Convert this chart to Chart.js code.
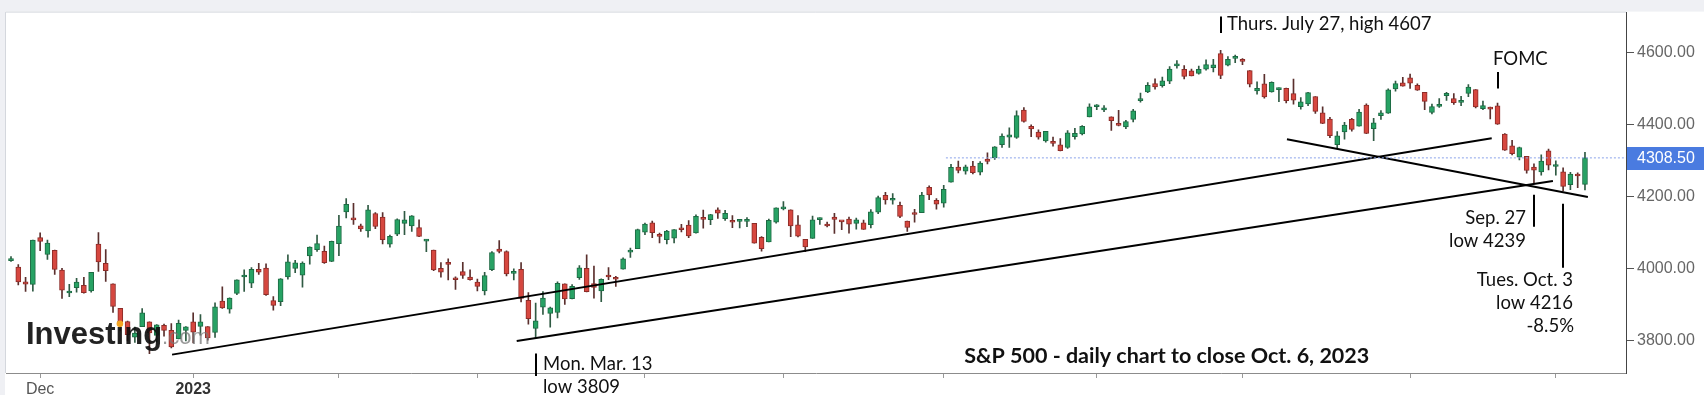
<!DOCTYPE html>
<html><head><meta charset="utf-8">
<script src="https://cdn.jsdelivr.net/npm/chart.js@4.4.0/dist/chart.umd.min.js"></script>
<style>
html,body{margin:0;padding:0;background:#fff;}
canvas{display:block;}
</style></head><body>
<canvas id="c" width="1704" height="395"></canvas>
<script>
// ---- DATA (S&P 500 daily, Nov 25 2022 - Oct 6 2023) ----
const dates = ["2022-11-25","2022-11-28","2022-11-29","2022-11-30","2022-12-01","2022-12-02","2022-12-05","2022-12-06","2022-12-07","2022-12-08","2022-12-09","2022-12-12","2022-12-13","2022-12-14","2022-12-15","2022-12-16","2022-12-19","2022-12-20","2022-12-21","2022-12-22","2022-12-23","2022-12-27","2022-12-28","2022-12-29","2022-12-30",
"2023-01-03","2023-01-04","2023-01-05","2023-01-06","2023-01-09","2023-01-10","2023-01-11","2023-01-12","2023-01-13","2023-01-17","2023-01-18","2023-01-19","2023-01-20","2023-01-23","2023-01-24","2023-01-25","2023-01-26","2023-01-27","2023-01-30","2023-01-31",
"2023-02-01","2023-02-02","2023-02-03","2023-02-06","2023-02-07","2023-02-08","2023-02-09","2023-02-10","2023-02-13","2023-02-14","2023-02-15","2023-02-16","2023-02-17","2023-02-21","2023-02-22","2023-02-23","2023-02-24","2023-02-27","2023-02-28",
"2023-03-01","2023-03-02","2023-03-03","2023-03-06","2023-03-07","2023-03-08","2023-03-09","2023-03-10","2023-03-13","2023-03-14","2023-03-15","2023-03-16","2023-03-17","2023-03-20","2023-03-21","2023-03-22","2023-03-23","2023-03-24","2023-03-27","2023-03-28","2023-03-29","2023-03-30","2023-03-31",
"2023-04-03","2023-04-04","2023-04-05","2023-04-06","2023-04-10","2023-04-11","2023-04-12","2023-04-13","2023-04-14","2023-04-17","2023-04-18","2023-04-19","2023-04-20","2023-04-21","2023-04-24","2023-04-25","2023-04-26","2023-04-27","2023-04-28",
"2023-05-01","2023-05-02","2023-05-03","2023-05-04","2023-05-05","2023-05-08","2023-05-09","2023-05-10","2023-05-11","2023-05-12","2023-05-15","2023-05-16","2023-05-17","2023-05-18","2023-05-19","2023-05-22","2023-05-23","2023-05-24","2023-05-25","2023-05-26","2023-05-30","2023-05-31",
"2023-06-01","2023-06-02","2023-06-05","2023-06-06","2023-06-07","2023-06-08","2023-06-09","2023-06-12","2023-06-13","2023-06-14","2023-06-15","2023-06-16","2023-06-20","2023-06-21","2023-06-22","2023-06-23","2023-06-26","2023-06-27","2023-06-28","2023-06-29","2023-06-30",
"2023-07-03","2023-07-05","2023-07-06","2023-07-07","2023-07-10","2023-07-11","2023-07-12","2023-07-13","2023-07-14","2023-07-17","2023-07-18","2023-07-19","2023-07-20","2023-07-21","2023-07-24","2023-07-25","2023-07-26","2023-07-27","2023-07-28","2023-07-31",
"2023-08-01","2023-08-02","2023-08-03","2023-08-04","2023-08-07","2023-08-08","2023-08-09","2023-08-10","2023-08-11","2023-08-14","2023-08-15","2023-08-16","2023-08-17","2023-08-18","2023-08-21","2023-08-22","2023-08-23","2023-08-24","2023-08-25","2023-08-28","2023-08-29","2023-08-30","2023-08-31",
"2023-09-01","2023-09-05","2023-09-06","2023-09-07","2023-09-08","2023-09-11","2023-09-12","2023-09-13","2023-09-14","2023-09-15","2023-09-18","2023-09-19","2023-09-20","2023-09-21","2023-09-22","2023-09-25","2023-09-26","2023-09-27","2023-09-28","2023-09-29",
"2023-10-02","2023-10-03","2023-10-04","2023-10-05","2023-10-06"];

const opens = [4023.34,4005.36,3964.00,3957.18,4087.14,4040.17,4052.02,3996.63,3933.28,3947.79,3954.17,3939.29,4069.38,4015.54,3958.37,3890.91,3853.79,3810.47,3839.49,3853.26,3815.11,3843.34,3829.56,3805.45,3829.06,
3853.29,3840.36,3839.74,3823.37,3910.82,3888.57,3932.35,3977.57,3960.60,3999.28,4002.25,3911.84,3909.04,3978.14,4001.74,3982.71,4036.08,4053.72,4049.27,4020.85,
4070.07,4158.68,4136.69,4119.57,4105.35,4153.97,4144.25,4068.92,4096.62,4126.70,4119.50,4114.75,4077.39,4052.35,4001.83,4018.60,3973.24,3992.36,3977.19,
3963.34,3938.68,3998.02,4055.15,4048.26,3987.55,3998.66,3912.77,3835.12,3894.01,3876.74,3878.93,3958.69,3917.47,3975.89,4002.04,3959.21,3939.21,3982.93,3974.13,3999.53,4046.74,4056.18,
4102.20,4128.03,4094.50,4081.15,4085.20,4110.29,4121.72,4100.04,4140.11,4137.17,4164.26,4139.33,4130.48,4132.14,4132.07,4126.43,4087.78,4075.29,4129.63,
4166.79,4164.10,4122.25,4082.61,4084.73,4136.98,4124.25,4143.74,4132.24,4138.54,4126.65,4127.95,4122.85,4157.68,4204.15,4190.78,4176.80,4132.96,4155.71,4156.16,4226.71,4190.74,
4183.03,4241.01,4282.99,4271.34,4285.47,4268.69,4304.88,4308.32,4345.28,4366.29,4365.33,4440.95,4396.11,4380.01,4355.40,4354.17,4344.84,4337.36,4367.48,4374.94,4422.44,
4450.48,4442.04,4422.62,4404.54,4394.23,4415.55,4467.69,4491.50,4514.61,4508.86,4521.78,4563.87,4554.38,4550.16,4543.39,4555.19,4558.96,4598.26,4565.75,4584.82,
4578.83,4550.93,4494.27,4513.96,4491.58,4498.03,4501.57,4487.16,4450.69,4458.13,4478.87,4433.79,4416.32,4344.88,4380.28,4415.33,4396.44,4455.16,4389.38,4426.03,4432.75,4500.34,4517.01,
4530.60,4510.06,4490.35,4434.55,4451.30,4480.98,4473.27,4462.65,4487.78,4497.98,4445.13,4445.41,4452.81,4374.36,4341.74,4310.62,4312.88,4282.63,4269.65,4328.18,
4284.52,4269.75,4233.83,4259.31,4234.79];

const highs = [4034.02,4012.27,3976.77,4080.11,4100.51,4080.48,4052.45,4001.51,3957.57,3974.19,3977.02,3990.71,4100.96,4053.76,3958.37,3890.91,3854.86,3838.24,3889.82,3853.26,3845.80,3846.65,3848.32,3858.19,3839.85,
3878.46,3873.16,3839.74,3906.19,3950.57,3919.83,3970.07,3997.76,4003.95,4015.39,4014.16,3922.94,3972.96,4039.31,4023.92,4019.55,4061.57,4094.21,4063.85,4077.16,
4148.95,4195.44,4182.36,4124.63,4176.54,4156.85,4156.23,4094.36,4138.90,4159.77,4148.11,4136.54,4081.51,4052.35,4017.37,4028.30,3978.25,4018.05,3997.50,
3971.73,3990.84,4048.29,4078.49,4050.00,4000.41,4017.81,3934.05,3905.05,3937.29,3894.26,3964.46,3958.91,3956.62,4009.08,4039.49,4007.66,3972.74,4003.83,3979.20,4030.59,4057.85,4110.75,
4127.66,4133.13,4099.69,4107.32,4109.50,4124.26,4134.37,4150.26,4163.19,4151.72,4169.48,4162.57,4148.57,4138.02,4142.41,4126.43,4089.67,4138.24,4170.06,
4186.92,4164.10,4148.30,4082.61,4147.02,4142.30,4130.35,4154.28,4132.80,4143.74,4141.25,4135.54,4164.67,4202.20,4212.91,4209.22,4185.68,4132.96,4165.74,4212.87,4231.10,4195.44,
4232.43,4290.67,4299.28,4288.33,4299.19,4298.01,4322.62,4340.13,4375.37,4391.82,4439.20,4448.47,4400.15,4386.22,4382.25,4366.55,4362.06,4384.42,4390.35,4398.39,4458.48,
4456.46,4454.06,4422.62,4440.39,4412.60,4443.64,4488.34,4517.38,4527.76,4532.85,4562.30,4578.43,4564.74,4555.00,4563.41,4580.62,4582.47,4607.07,4590.16,4594.22,
4584.62,4550.93,4519.49,4540.34,4519.84,4503.31,4502.44,4527.37,4476.23,4490.33,4478.87,4449.95,4421.17,4381.82,4407.55,4418.59,4443.18,4458.30,4418.46,4439.56,4500.14,4521.65,4532.26,
4541.25,4514.29,4490.35,4457.81,4473.53,4490.77,4487.11,4479.39,4511.99,4497.98,4466.36,4449.85,4461.03,4375.70,4357.40,4338.51,4313.01,4292.07,4317.27,4333.15,
4300.58,4281.15,4268.50,4267.13,4324.10];

const lows = [4020.76,3955.77,3937.65,3938.58,4050.87,4026.63,3984.49,3918.39,3922.68,3935.83,3933.04,3935.30,3993.03,3965.65,3879.45,3827.91,3800.04,3795.62,3839.49,3764.49,3797.01,3813.22,3780.78,3805.45,3800.34,
3794.33,3815.77,3802.42,3809.56,3890.42,3877.29,3928.54,3937.56,3947.67,3984.57,3926.59,3885.54,3897.86,3971.64,3989.79,3949.06,4013.29,4048.70,4015.55,4020.44,
4037.20,4141.88,4123.36,4103.98,4088.39,4111.67,4069.67,4060.79,4092.67,4095.01,4103.98,4089.49,4047.95,3995.19,3976.90,3969.19,3943.08,3973.55,3968.98,
3939.05,3928.16,3995.17,4044.61,3980.31,3969.76,3908.70,3846.32,3808.86,3873.63,3838.24,3864.11,3901.27,3916.89,3971.19,3936.17,3919.05,3909.16,3970.49,3951.53,3999.53,4032.10,4056.18,
4095.31,4086.87,4072.56,4069.84,4072.55,4102.61,4086.94,4099.40,4113.20,4123.18,4140.36,4134.49,4114.57,4113.86,4117.77,4071.38,4049.35,4075.29,4127.18,
4164.12,4089.72,4088.86,4048.28,4084.73,4123.81,4116.65,4098.92,4109.29,4099.12,4110.27,4109.86,4113.62,4153.50,4180.20,4179.68,4142.54,4103.98,4129.73,4156.16,4192.18,4166.15,
4171.64,4241.01,4266.82,4263.09,4263.96,4261.07,4291.70,4304.37,4337.55,4337.85,4362.60,4407.44,4367.19,4360.14,4351.82,4341.34,4328.08,4335.00,4360.22,4371.97,4422.44,
4442.29,4436.61,4385.05,4397.40,4389.92,4408.46,4463.23,4489.36,4499.56,4504.90,4514.59,4557.48,4527.56,4535.79,4541.29,4552.42,4547.58,4528.56,4564.01,4573.14,
4567.53,4505.75,4485.54,4474.55,4491.15,4464.39,4461.33,4457.92,4443.98,4453.44,4432.19,4403.55,4364.83,4335.31,4360.30,4382.77,4396.44,4375.55,4356.29,4414.98,4431.68,4493.59,4507.39,
4501.35,4496.01,4442.38,4430.46,4448.38,4467.89,4456.83,4453.52,4478.69,4447.21,4442.11,4416.61,4401.38,4329.17,4316.49,4302.70,4265.98,4238.63,4260.21,4274.86,
4260.21,4216.45,4220.48,4225.91,4219.55];

const closes = [4026.12,3963.94,3957.63,4080.11,4076.57,4071.70,3998.84,3941.26,3933.92,3963.51,3934.38,3990.56,4019.65,3995.32,3895.75,3852.36,3817.66,3821.62,3878.44,3822.39,3844.82,3829.25,3783.22,3849.28,3839.50,
3824.14,3852.97,3808.10,3895.08,3892.09,3919.25,3969.61,3983.17,3999.09,3990.97,3928.86,3898.85,3972.61,4019.81,4016.95,4016.22,4060.43,4070.56,4017.77,4076.60,
4119.21,4179.76,4136.48,4111.08,4164.00,4117.86,4081.50,4090.46,4137.29,4136.13,4147.60,4090.41,4079.09,3997.34,3991.05,4012.32,3970.04,3982.24,3970.15,
3951.39,3981.35,4045.64,4048.42,3986.37,3992.01,3918.32,3861.59,3855.76,3919.29,3891.93,3960.28,3916.64,3951.57,4002.87,3936.97,3948.72,3970.99,3977.53,3971.27,4027.81,4050.83,4109.31,
4124.51,4100.60,4090.38,4105.02,4109.11,4108.94,4091.95,4146.22,4137.64,4151.32,4154.87,4154.52,4129.79,4133.52,4137.04,4071.63,4055.99,4135.35,4169.48,
4167.87,4119.58,4090.75,4061.22,4136.25,4138.12,4119.17,4137.64,4130.62,4124.08,4136.28,4109.90,4158.77,4198.05,4191.98,4192.63,4145.58,4115.24,4151.28,4205.45,4205.52,4179.83,
4221.02,4282.37,4273.79,4283.85,4267.52,4293.93,4298.86,4338.93,4369.01,4372.59,4425.84,4409.59,4388.71,4365.69,4381.89,4348.33,4328.82,4378.41,4376.86,4396.44,4450.38,
4455.59,4446.82,4411.59,4398.95,4409.53,4439.26,4472.16,4510.04,4505.42,4522.79,4554.98,4565.72,4534.87,4536.34,4554.64,4567.46,4566.75,4537.41,4582.23,4588.96,
4576.73,4513.39,4501.89,4478.03,4518.44,4499.38,4467.71,4468.83,4464.05,4489.72,4437.86,4404.33,4370.36,4369.71,4399.77,4387.55,4436.01,4376.31,4405.71,4433.31,4497.63,4514.87,4507.66,
4515.77,4496.83,4465.48,4451.14,4457.49,4487.46,4461.90,4467.44,4505.10,4450.32,4453.53,4443.95,4402.20,4330.00,4320.06,4337.44,4273.53,4274.51,4299.70,4288.05,
4288.39,4229.45,4263.75,4258.19,4308.50];

// Y axis tick values and X-axis month marks (candle index of first trading day)
const yTickValues = [3800, 4000, 4200, 4400, 4600];
const monthStartIndex = [4, 25, 45, 64, 87, 106, 128, 149, 169, 192, 212];
const monthLabels = ["Dec", "2023", "", "", "", "", "", "", "", "", ""];
const lastPrice = 4308.50;
const lastPriceLineStart = 128.3;

// Trend lines drawn on the chart (candle index, price)
const trendLineA = [{x: 22.1, y: 3762}, {x: 203.2, y: 4363}];
const trendLineB = [{x: 69.4, y: 3800}, {x: 211.6, y: 4244}];
const trendLineC = [{x: 175.1, y: 4360}, {x: 216.4, y: 4200}];

// Annotations anchored in data space
const annotations = [
  {idx: 166, top: 4701, bottom: 4655, texts: [{t: "Thurs. July 27, high 4607", dx: 6, y: 4663, align: "left"}]},
  {idx: 72, top: 3765, bottom: 3703, texts: [{t: "Mon. Mar. 13", dx: 7, y: 3719, align: "left"}, {t: "low 3809", dx: 7, y: 3656, align: "left"}]},
  {idx: 204, top: 4547, bottom: 4501, texts: [{t: "FOMC", dx: -5, y: 4566, align: "left"}]},
  {idx: 209, top: 4206, bottom: 4117, texts: [{t: "Sep. 27", dx: -8, y: 4125, align: "right"}, {t: "low 4239", dx: -8, y: 4060, align: "right"}]},
  {idx: 213, top: 4181, bottom: 4003, texts: [{t: "Tues. Oct. 3", dx: 10, y: 3954, align: "right"}, {t: "low 4216", dx: 10, y: 3889, align: "right"}, {t: "-8.5%", dx: 11, y: 3824, align: "right"}]}
];
const titleText = "S&P 500 - daily chart to close Oct. 6, 2023";
const titleAnchor = {idx: 130.8, y: 3740};
const logoAnchor = {idx: 2.06, y: 3792};

// ---- CHART ----
const idx = dates.map((d, i) => i);
const up = idx.map(i => closes[i] >= opens[i]);
const GREEN = '#27a264', GREEN_B = '#1d6a43', RED = '#d6473f', RED_B = '#8c2c28';

const bgPlugin = {
  id: 'bg',
  beforeDraw(chart) {
    const {ctx, chartArea: a, width, height} = chart;
    ctx.save();
    ctx.fillStyle = '#ffffff';
    ctx.fillRect(0, 0, width, height);
    ctx.fillStyle = '#eff0f4';
    ctx.fillRect(0, 0, width, a.top - 1);
    ctx.fillRect(0, 0, a.left - 1, height);
    ctx.strokeStyle = '#d4d7dd';
    ctx.lineWidth = 1;
    ctx.beginPath();
    ctx.moveTo(a.left - 0.5, a.top - 0.5); ctx.lineTo(a.left - 0.5, a.bottom);
    ctx.moveTo(a.left - 0.5, a.top - 0.5); ctx.lineTo(a.right, a.top - 0.5);
    ctx.stroke();
    ctx.restore();
  }
};

const annoPlugin = {
  id: 'anno',
  afterDraw(chart) {
    const {ctx, chartArea: a, scales: {x, y}, width} = chart;
    ctx.save();
    // logo
    const lx = x.getPixelForValue(logoAnchor.idx), ly = y.getPixelForValue(logoAnchor.y);
    ctx.textBaseline = 'alphabetic';
    ctx.textAlign = 'left';
    ctx.font = 'bold 31px "Liberation Sans", Arial, sans-serif';
    ctx.fillStyle = 'rgba(15,15,15,0.92)';
    ctx.fillText('Investing', lx, ly);
    const wInv = ctx.measureText('Investing').width;
    const wInvest = ctx.measureText('Invest').width;
    const wi = ctx.measureText('i').width;
    ctx.fillStyle = '#f5a623';
    ctx.beginPath();
    ctx.arc(lx + wInvest + wi / 2, ly - 20, 3.3, 0, Math.PI * 2);
    ctx.fill();
    ctx.font = '22px "Liberation Sans", Arial, sans-serif';
    ctx.fillStyle = 'rgba(120,120,120,0.75)';
    ctx.fillText('.com', lx + wInv, ly);

    // annotations
    ctx.strokeStyle = '#000';
    ctx.lineWidth = 2;
    ctx.fillStyle = '#111';
    ctx.font = '18.5px Lato, "Open Sans", sans-serif';
    for (const an of annotations) {
      const px = Math.round(x.getPixelForValue(an.idx));
      ctx.beginPath();
      ctx.moveTo(px, y.getPixelForValue(an.top));
      ctx.lineTo(px, y.getPixelForValue(an.bottom));
      ctx.stroke();
      for (const t of an.texts) {
        ctx.textAlign = t.align;
        ctx.fillText(t.t, px + t.dx, y.getPixelForValue(t.y));
      }
    }
    // title
    ctx.font = 'bold 21.5px Lato, "Open Sans", sans-serif';
    ctx.textAlign = 'left';
    ctx.fillText(titleText, x.getPixelForValue(titleAnchor.idx), y.getPixelForValue(titleAnchor.y));

    // last price box
    const py = y.getPixelForValue(lastPrice);
    ctx.fillStyle = '#4a7be0';
    ctx.fillRect(a.right + 1, Math.round(py) - 11, width - a.right - 1, 23);
    ctx.fillStyle = '#ffffff';
    ctx.font = '16px "Liberation Sans", Arial, sans-serif';
    ctx.textAlign = 'left';
    ctx.textBaseline = 'middle';
    ctx.fillText(lastPrice.toFixed(2), a.right + 11, Math.round(py) + 1);
    ctx.restore();
  }
};

new Chart(document.getElementById('c'), {
  type: 'bar',
  data: {
    datasets: [
      {
        type: 'line', data: [{x: lastPriceLineStart, y: lastPrice}, {x: 221.63, y: lastPrice}],
        borderColor: '#8aa3ea', borderWidth: 1, borderDash: [2, 2], pointRadius: 0, order: 0
      },
      {type: 'line', data: trendLineA, borderColor: '#000', borderWidth: 2, pointRadius: 0, order: 0},
      {type: 'line', data: trendLineB, borderColor: '#000', borderWidth: 2, pointRadius: 0, order: 0},
      {type: 'line', data: trendLineC, borderColor: '#000', borderWidth: 2, pointRadius: 0, order: 0},
      {
        label: 'body', data: idx.map(i => ({x: i, y: [opens[i], closes[i]]})),
        backgroundColor: idx.map(i => up[i] ? GREEN : RED),
        borderColor: idx.map(i => up[i] ? GREEN_B : RED_B),
        borderWidth: 1, borderSkipped: false, barThickness: 5, grouped: false, minBarLength: 2, order: 2
      },
      {
        label: 'wick', data: idx.map(i => ({x: i, y: [lows[i], highs[i]]})),
        backgroundColor: idx.map(i => up[i] ? '#2f5a43' : '#5a2f2d'),
        borderWidth: 0, barThickness: 1, grouped: false, order: 3
      }
    ]
  },
  options: {
    responsive: false,
    animation: false,
    devicePixelRatio: 1,
    layout: {padding: {left: 6, top: 3, right: 0, bottom: 0}},
    plugins: {legend: {display: false}, tooltip: {enabled: false}},
    scales: {
      x: {
        type: 'linear', position: 'bottom', min: -0.686, max: 221.63, bounds: 'data', offset: false,
        afterBuildTicks: s => { s.ticks = monthStartIndex.map(v => ({value: v})); },
        afterFit: s => { s.height = 22; },
        grid: {display: true, offset: false, drawOnChartArea: false, drawTicks: true, tickLength: 5, color: '#999'},
        border: {display: true, color: '#8c8c8c', width: 1},
        ticks: {
          autoSkip: false, maxRotation: 0, padding: 2,
          color: c => (c.tick && c.tick.value === 25) ? '#333' : '#555',
          font: c => ({family: '"Liberation Sans", Arial, sans-serif', size: 16, weight: (c.tick && c.tick.value === 25) ? 'bold' : 'normal'}),
          callback: v => { const k = monthStartIndex.indexOf(v); return k >= 0 ? monthLabels[k] : ''; }
        }
      },
      y: {
        type: 'linear', position: 'right', min: 3711, max: 4712, bounds: 'data',
        afterBuildTicks: s => { s.ticks = yTickValues.map(v => ({value: v})); },
        afterFit: s => { s.width = 78; },
        grid: {display: true, drawOnChartArea: false, drawTicks: true, tickLength: 8, color: '#555'},
        border: {display: true, color: '#444', width: 1},
        ticks: {
          padding: 3, color: '#666',
          font: {family: '"Liberation Sans", Arial, sans-serif', size: 16},
          callback: v => Number(v).toFixed(2)
        }
      }
    }
  },
  plugins: [bgPlugin, annoPlugin]
});
</script>
</body></html>
